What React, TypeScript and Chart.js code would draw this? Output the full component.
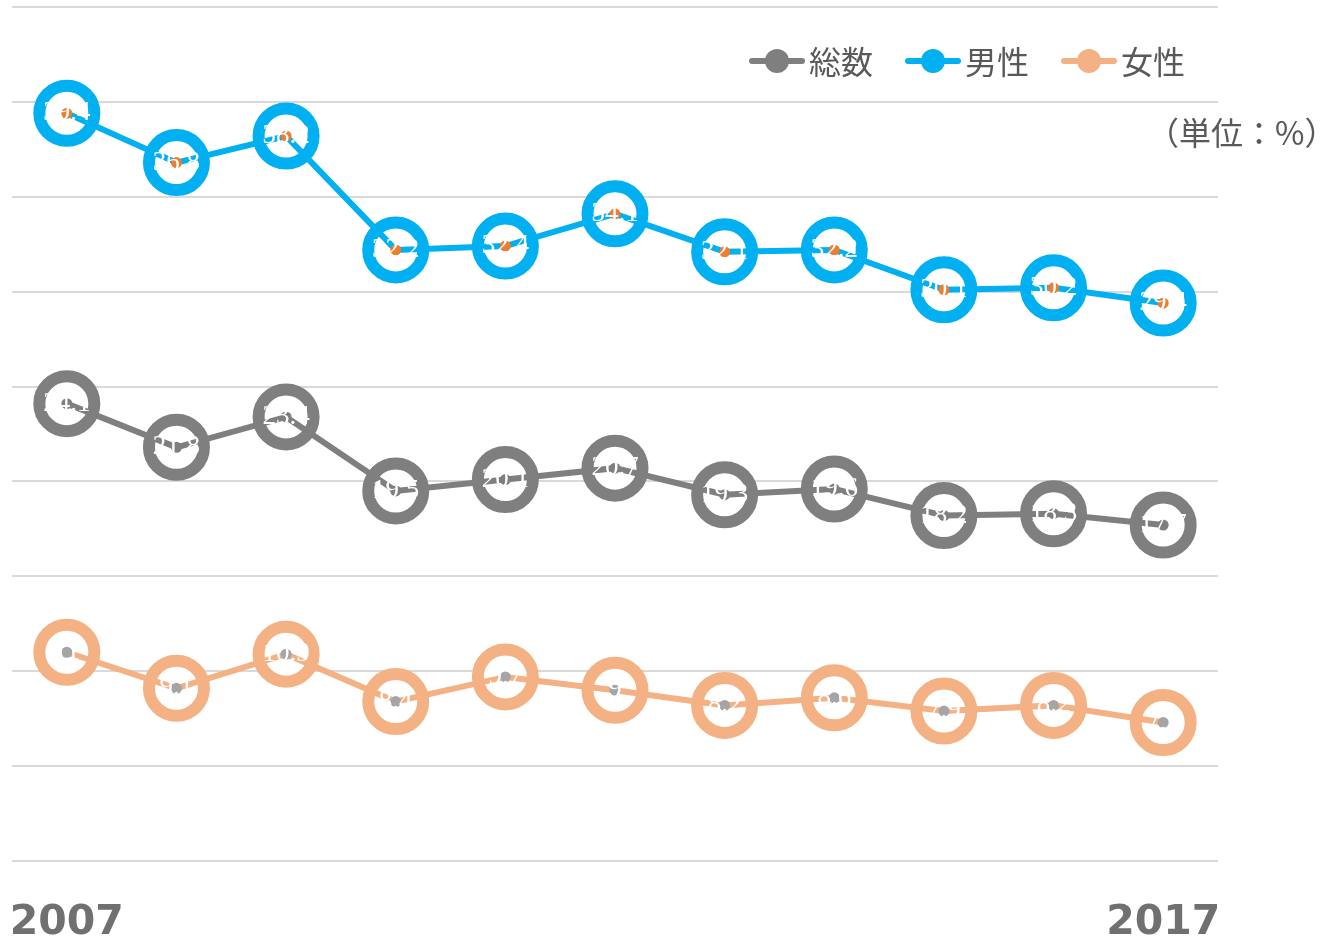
import React, { useEffect, useRef } from "react";
import { Chart, registerables } from "chart.js";

Chart.register(...registerables);

const years = ["2007", "2008", "2009", "2010", "2011", "2012", "2013", "2014", "2015", "2016", "2017"];
const totalValues = [24.1, 21.8, 23.4, 19.5, 20.1, 20.7, 19.3, 19.6, 18.2, 18.3, 17.7];
const maleValues = [39.4, 36.8, 38.2, 32.2, 32.4, 34.1, 32.1, 32.2, 30.1, 30.2, 29.4];
const femaleValues = [11, 9.1, 10.9, 8.4, 9.7, 9, 8.2, 8.6, 7.9, 8.2, 7.3];
const seriesNames = ["総数", "男性", "女性"];
const shownTickLabels = ["2007", "2017"];
const unitLabel = "（単位：%）";

const GRAY = "#7F7F7F";
const BLUE = "#00B0F0";
const PEACH = "#F4B183";
const ORANGE_DOT = "#ED7D31";
const GRAY_DOT = "#A5A5A5";
const TEXT = "#595959";
const CJK = "'Noto Sans CJK JP', 'Noto Sans', sans-serif";

const seriesValues = [totalValues, maleValues, femaleValues];
const lineColors = [GRAY, BLUE, PEACH];
const dotColors = [GRAY, ORANGE_DOT, GRAY_DOT];

const overlayPlugin = {
  id: "overlay",
  afterDatasetsDraw(chart: any) {
    const ctx = chart.ctx;
    ctx.save();
    ctx.font = "27px 'Liberation Serif', serif";
    ctx.fillStyle = "#FFFFFF";
    ctx.textAlign = "center";
    ctx.textBaseline = "middle";
    chart.data.datasets.forEach((ds: any, di: number) => {
      if (ds.role !== "line") return;
      const meta = chart.getDatasetMeta(di);
      meta.data.forEach((pt: any, i: number) => {
        ctx.fillText(String(ds.data[i]), pt.x, pt.y);
      });
    });
    ctx.restore();
  },
  afterDraw(chart: any) {
    const ctx = chart.ctx;
    ctx.save();
    // legend
    ctx.font = `32px ${CJK}`;
    ctx.textBaseline = "middle";
    ctx.textAlign = "left";
    let x = 749;
    const y = 61;
    chart.data.datasets.forEach((ds: any) => {
      if (ds.role !== "line") return;
      ctx.strokeStyle = ds.borderColor;
      ctx.lineWidth = 6;
      ctx.lineCap = "round";
      ctx.beginPath();
      ctx.moveTo(x + 3, y);
      ctx.lineTo(x + 53, y);
      ctx.stroke();
      ctx.fillStyle = ds.borderColor;
      ctx.beginPath();
      ctx.arc(x + 28, y, 12, 0, Math.PI * 2);
      ctx.fill();
      ctx.fillStyle = TEXT;
      ctx.fillText(ds.label, x + 60, y + 1);
      const w = ctx.measureText(ds.label).width;
      x = x + 60 + w + 32;
    });
    // unit
    ctx.fillStyle = TEXT;
    ctx.font = `32px ${CJK}`;
    ctx.fillText(unitLabel, 1147, 133);
    ctx.restore();
  },
};

export default function App() {
  const canvasRef = useRef<HTMLCanvasElement | null>(null);

  useEffect(() => {
    if (!canvasRef.current) return;
    const datasets: any[] = [];
    seriesValues.forEach((vals, s) => {
      datasets.push({
        role: "ring",
        label: seriesNames[s] + "-ring",
        data: vals,
        showLine: false,
        pointRadius: 27.5,
        pointBorderWidth: 12,
        pointBackgroundColor: "#FFFFFF",
        pointBorderColor: lineColors[s],
        borderColor: lineColors[s],
        order: 10,
        clip: false,
      });
    });
    seriesValues.forEach((vals, s) => {
      datasets.push({
        role: "line",
        label: seriesNames[s],
        data: vals,
        borderColor: lineColors[s],
        borderWidth: 6,
        pointRadius: 0,
        tension: 0,
        fill: false,
        order: 5,
      });
    });
    seriesValues.forEach((vals, s) => {
      datasets.push({
        role: "dot",
        label: seriesNames[s] + "-dot",
        data: vals,
        showLine: false,
        pointRadius: 5.5,
        pointBorderWidth: 0,
        pointBackgroundColor: dotColors[s],
        pointBorderColor: dotColors[s],
        order: 1,
      });
    });

    const chart = new Chart(canvasRef.current, {
      type: "line",
      data: { labels: years, datasets },
      options: {
        animation: false,
        responsive: true,
        maintainAspectRatio: false,
        events: [],
        layout: { autoPadding: false, padding: { left: 12, right: 110, top: 7, bottom: -38 } },
        plugins: {
          legend: { display: false },
          tooltip: { enabled: false },
        },
        scales: {
          x: {
            offset: true,
            grid: { display: false },
            border: { display: false },
            ticks: {
              autoSkip: false,
              maxRotation: 0,
              padding: 0,
              color: "#707070",
              font: { family: "'DejaVu Sans', sans-serif", size: 41, weight: "bold", lineHeight: 108 / 41 },
              callback: (_v: any, i: number) => {
                const lab = years[i];
                return shownTickLabels.includes(lab) ? lab : "";
              },
            },
          },
          y: {
            min: 0,
            max: 45,
            ticks: { display: false, stepSize: 5 },
            grid: { color: "#D9D9D9", lineWidth: 2, drawTicks: false },
            border: { display: false },
          },
        },
      },
      plugins: [overlayPlugin],
    });
    return () => chart.destroy();
  }, []);

  return (
    <div style={{ position: "absolute", left: 0, top: 0, width: 1328, height: 939 }}>
      <canvas ref={canvasRef} />
    </div>
  );
}
